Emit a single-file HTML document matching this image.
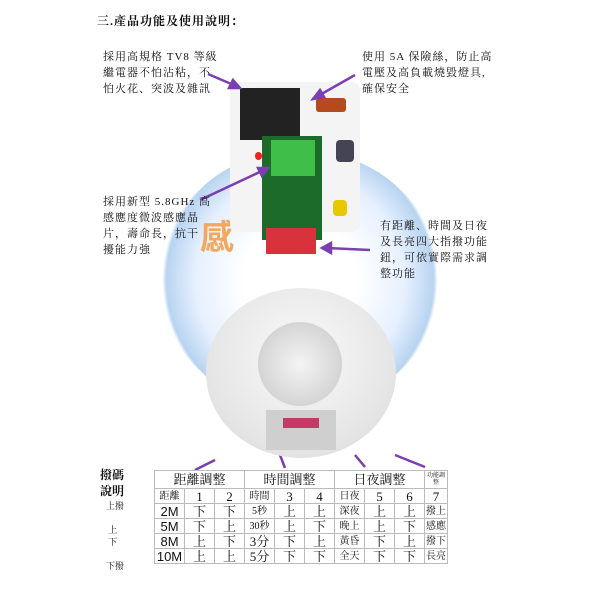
<!DOCTYPE html>
<html><head><meta charset="utf-8"><style>
body{margin:0;width:600px;height:600px;background:#fff;position:relative;overflow:hidden;font-family:"Liberation Serif","Noto Serif CJK SC","Noto Sans CJK TC",serif;color:#111}
.a{position:absolute}
.t{font-size:11px;line-height:16px;letter-spacing:1px}
table{border-collapse:collapse;position:absolute;left:154px;top:470px;font-size:13px;line-height:13px}
td{border:1px solid #bbb;text-align:center;padding:0;height:14px}
</style></head><body>
<div class="a" style="left:97px;top:12px;font-size:12px;font-weight:bold;letter-spacing:1px">三.產品功能及使用說明：</div>
<div class="a" style="left:160px;top:150px;width:280px;height:260px;border-radius:50%;background:radial-gradient(circle,#fff 30%,#e6f0ff 55%,#b8d4f0 70%,#fff 72%)"></div>
<div class="a" style="left:200px;top:210px;font-size:34px;color:#f2a860;font-weight:bold;font-family:'Noto Sans CJK TC',sans-serif">感　生</div>
<div class="a" style="left:230px;top:82px;width:130px;height:150px;background:#f4f4f4;border-radius:8px"></div>
<div class="a" style="left:240px;top:88px;width:60px;height:52px;background:#222"></div>
<div class="a" style="left:316px;top:98px;width:30px;height:14px;background:#b54a1e;border-radius:3px"></div>
<div class="a" style="left:336px;top:140px;width:18px;height:22px;background:#445;border-radius:4px"></div>
<div class="a" style="left:262px;top:136px;width:60px;height:104px;background:#1d6b2a"></div>
<div class="a" style="left:271px;top:140px;width:44px;height:36px;background:#3fbf4a"></div>
<div class="a" style="left:255px;top:152px;width:7px;height:8px;background:#e22;border-radius:50%"></div>
<div class="a" style="left:333px;top:200px;width:14px;height:16px;background:#e8c800;border-radius:4px"></div>
<div class="a" style="left:266px;top:228px;width:50px;height:26px;background:#d8323c"></div>
<svg class="a" style="left:0;top:0" width="600" height="600">
<g stroke="#7a3fb0" stroke-width="2.5" fill="#7a3fb0">
<line x1="208" y1="74" x2="236" y2="86"/><polygon points="240,88 229,88 233,80"/>
<line x1="355" y1="75" x2="318" y2="96"/><polygon points="313,99 320,90 324,97"/>
<line x1="200" y1="200" x2="264" y2="170"/><polygon points="268,168 258,168 262,176"/>
<line x1="370" y1="250" x2="327" y2="248"/><polygon points="322,248 331,243 331,253"/>
<line x1="215" y1="460" x2="195" y2="470"/><line x1="280" y1="455" x2="285" y2="468"/><line x1="355" y1="455" x2="365" y2="467"/><line x1="395" y1="455" x2="425" y2="467"/>
</g></svg>
<div class="a t" style="left:103px;top:49px">採用高規格 TV8 等級<br>繼電器不怕沾粘，不<br>怕火花、突波及雜訊</div>
<div class="a t" style="left:362px;top:49px">使用 5A 保險絲，防止高<br>電壓及高負載燒毀燈具,<br>確保安全</div>
<div class="a t" style="left:103px;top:194px">採用新型 5.8GHz 高<br>感應度微波感應晶<br>片，壽命長，抗干<br>擾能力強</div>
<div class="a t" style="left:380px;top:218px">有距離、時間及日夜<br>及長亮四大指撥功能<br>鈕，可依實際需求調<br>整功能</div>
<div class="a" style="left:206px;top:288px;width:190px;height:170px;border-radius:50%;background:radial-gradient(circle at 50% 40%,#fafafa,#e4e4e4 70%,#ccc)"></div>
<div class="a" style="left:258px;top:322px;width:84px;height:84px;border-radius:50%;background:radial-gradient(circle,#f4f4f4,#d0d0d0 80%,#bbb)"></div>
<div class="a" style="left:266px;top:410px;width:70px;height:40px;background:#cfcfcf"></div>
<div class="a" style="left:283px;top:418px;width:36px;height:10px;background:#c43a66"></div>
<div class="a" style="left:100px;top:467px;font-size:12px;line-height:16px;font-weight:bold">撥碼<br>說明</div>
<div class="a" style="left:106px;top:500px;font-size:9px;line-height:12px">上撥<br><br>&nbsp;上<br>&nbsp;下<br><br>下撥</div>
<table>
<tr><td colspan="3" style="width:87px;font-size:13px;height:17px">距離調整</td><td colspan="3" style="font-size:13px">時間調整</td><td colspan="3" style="font-size:13px">日夜調整</td><td style="font-size:6px;width:22px;line-height:7px">功能調整</td></tr>
<tr><td style="width:29px;font-size:10px">距離</td><td style="width:29px">1</td><td style="width:29px">2</td><td style="width:29px;font-size:10px">時間</td><td style="width:29px">3</td><td style="width:29px">4</td><td style="width:29px;font-size:10px">日夜</td><td style="width:29px">5</td><td style="width:29px">6</td><td>7</td></tr>
<tr><td style="font-family:'Liberation Sans'">2M</td><td>下</td><td>下</td><td style="font-size:10px">5秒</td><td>上</td><td>上</td><td style="font-size:10px">深夜</td><td>上</td><td>上</td><td style="font-size:10px">撥上</td></tr>
<tr><td style="font-family:'Liberation Sans'">5M</td><td>下</td><td>上</td><td style="font-size:10px">30秒</td><td>上</td><td>下</td><td style="font-size:10px">晚上</td><td>上</td><td>下</td><td style="font-size:10px">感應</td></tr>
<tr><td style="font-family:'Liberation Sans'">8M</td><td>上</td><td>下</td><td>3分</td><td>下</td><td>上</td><td style="font-size:10px">黃昏</td><td>下</td><td>上</td><td style="font-size:10px">撥下</td></tr>
<tr><td style="font-family:'Liberation Sans'">10M</td><td>上</td><td>上</td><td>5分</td><td>下</td><td>下</td><td style="font-size:10px">全天</td><td>下</td><td>下</td><td style="font-size:10px">長亮</td></tr>
</table>
</body></html>
